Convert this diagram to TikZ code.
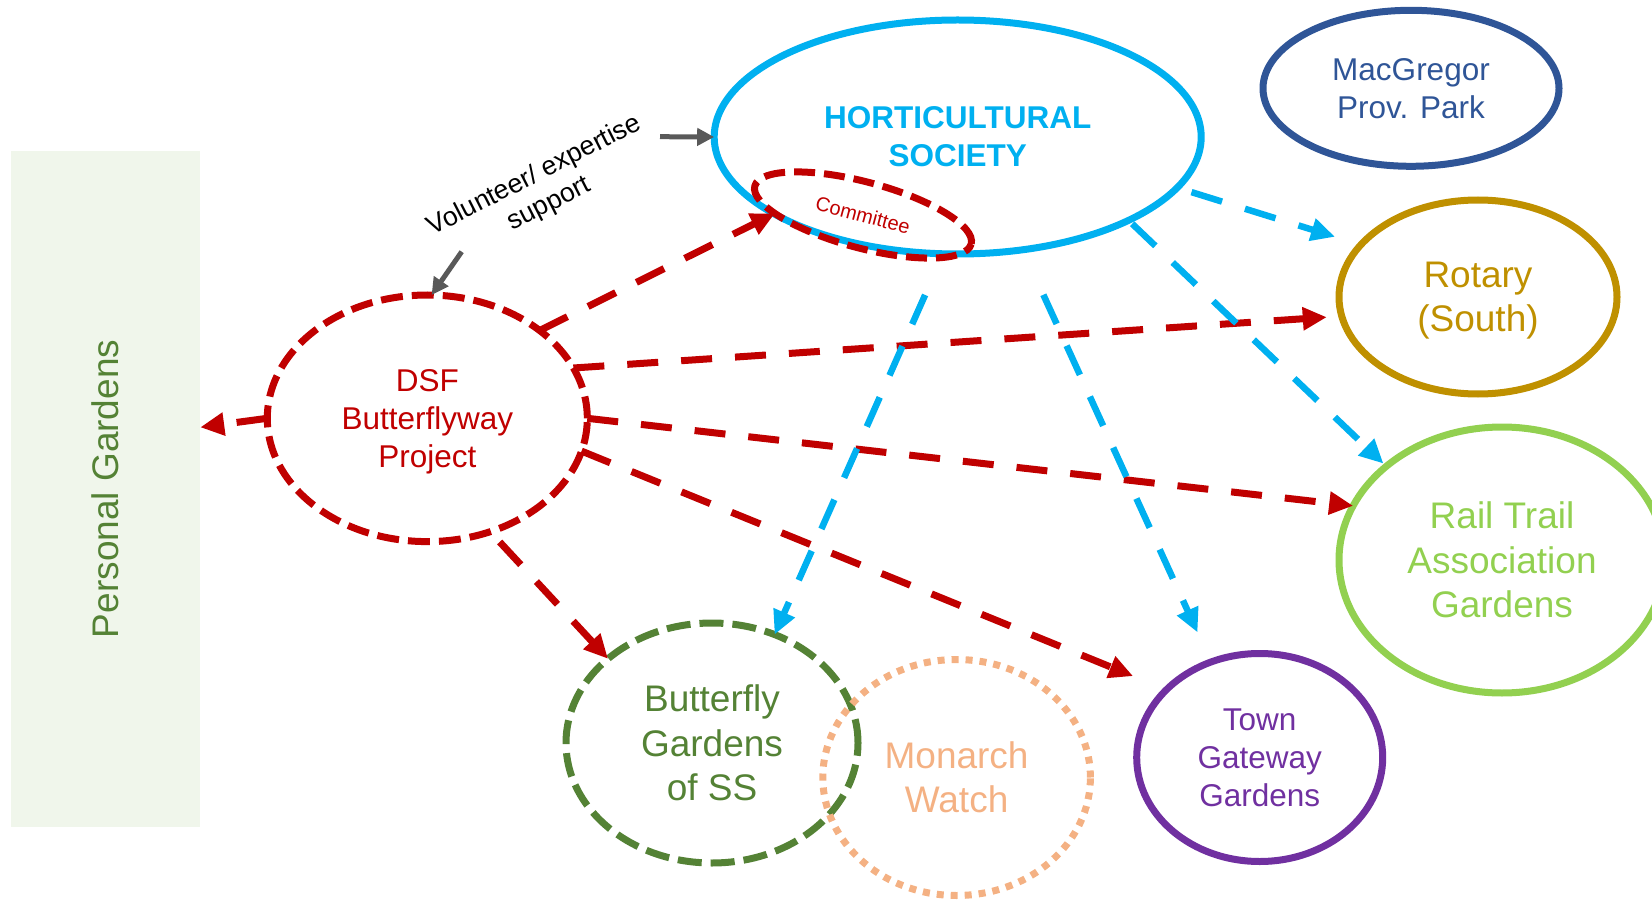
\documentclass[tikz,border=0pt]{standalone}
\usepackage{fontspec}
\setmainfont{Liberation Sans}
\usetikzlibrary{shapes.geometric,arrows.meta,positioning}

\definecolor{hsblue}{RGB}{0,176,240}
\definecolor{dsfred}{RGB}{192,0,0}
\definecolor{parkblue}{RGB}{47,85,151}
\definecolor{rotarygold}{RGB}{191,144,0}
\definecolor{railgreen}{RGB}{146,208,80}
\definecolor{townpurple}{RGB}{112,48,160}
\definecolor{gardengreen}{RGB}{84,130,53}
\definecolor{monarchpeach}{RGB}{244,177,131}
\definecolor{notegray}{RGB}{89,89,89}
\definecolor{personalfill}{RGB}{240,246,235}

\tikzset{
  bubble/.style={ellipse, draw, line width=7pt, inner sep=0pt, outer sep=0pt, align=center},
  bigtext/.style={font=\fontsize{37}{44.5}\selectfont},
  midtext/.style={font=\fontsize{31.5}{38}\selectfont},
  redlink/.style={dsfred, line width=7pt, dash pattern=on 31pt off 23pt, -{Triangle[length=24pt,width=22pt]}},
  bluelink/.style={hsblue, line width=6.5pt, dash pattern=on 32pt off 24pt, -{Triangle[length=24pt,width=22pt]}},
  graylink/.style={notegray, line width=5pt, -{Triangle[length=17pt,width=17pt]}},
}

\begin{document}
\begin{tikzpicture}[x=1pt,y=1pt,yscale=-1,xscale=1]
\useasboundingbox (0,0) rectangle (1652,901);

%Shape: Rectangle
\node (personal) [rectangle, fill=personalfill, inner sep=0pt, outer sep=0pt, minimum width=189.7pt, minimum height=676.3pt, text=gardengreen, bigtext] at (105.4,488.9) {\rotatebox{90}{Personal Gardens}};

%Shape: Ellipse
\node (hs) [bubble, draw=hsblue, text=hsblue, minimum width=487pt, minimum height=234pt, font=\fontsize{31.5}{38}\selectfont\bfseries] at (957.7,137) {HORTICULTURAL\\SOCIETY};
\node (committee) [bubble, draw=dsfred, text=dsfred, rotate=-15, dash pattern=on 21pt off 9pt, minimum width=224pt, minimum height=66pt, font=\fontsize{20}{24}\selectfont] at (863,215) {Committee};
\node (park) [bubble, draw=parkblue, text=parkblue, minimum width=296pt, minimum height=156pt, midtext] at (1411,88.3) {MacGregor\\Prov. Park};
\node (rotary) [bubble, draw=rotarygold, text=rotarygold, minimum width=278pt, minimum height=194pt, text depth=0pt, bigtext] at (1478,297) {Rotary\\(South)};
\node (rail) [bubble, draw=railgreen, text=railgreen, minimum width=326pt, minimum height=266pt, bigtext] at (1502,560) {Rail Trail\\Association\\Gardens};
\node (town) [bubble, draw=townpurple, text=townpurple, minimum width=246pt, minimum height=208pt, midtext] at (1259.7,757.5) {Town\\Gateway\\Gardens};
\node (bgss) [bubble, draw=gardengreen, text=gardengreen, dash pattern=on 24pt off 9pt, minimum width=292pt, minimum height=240pt, bigtext] at (712,743) {Butterfly\\Gardens\\of SS};
\node (monarch) [bubble, draw=monarchpeach, text=monarchpeach, dash pattern=on 7pt off 7pt, minimum width=267.6pt, minimum height=236pt, bigtext] at (956.6,777.5) {Monarch\\Watch};
\node (dsf) [bubble, draw=dsfred, text=dsfred, dash pattern=on 22pt off 9pt, minimum width=320pt, minimum height=246.6pt, text depth=0pt, midtext] at (427.3,418.3) {DSF\\Butterflyway\\Project};

% Text Node
\node (volunteer) [rotate=27, align=center, font=\fontsize{26.7}{32}\selectfont] at (542,190) {Volunteer/ expertise\\support};

\coordinate (volhs) at (660,136.7);
\coordinate (voldsf) at (461.7,251.7);

% red links
\draw [redlink] (dsf.38) -- (committee.194);
\draw [redlink, shorten >=15pt] (dsf.19) -- (rotary.188);
\draw [redlink] (dsf.0) -- (rail.160);
\draw [redlink, shorten >=36pt] (dsf.-12) -- (town.144);
\draw [redlink, shorten <=14pt] (dsf.-61) -- (bgss.141);
\draw [redlink] (dsf.180) -- (personal.33);

% blue links
\draw [bluelink, shorten <=15pt, shorten >=27pt] (hs.-13.4) -- (rotary.156);
\draw [bluelink, shorten <=5pt, shorten >=4pt] (hs.-26.4) -- (rail.141);
\draw [bluelink, shorten <=49.5pt, shorten >=32.5pt] (hs.-60.8) -- (town.117);
\draw [bluelink, shorten <=45pt] (hs.-97.1) -- (bgss.60);

% gray links
\draw [graylink] (volhs) -- (hs.180);
\draw [graylink] (voldsf) -- (dsf.88);

\end{tikzpicture}
\end{document}
